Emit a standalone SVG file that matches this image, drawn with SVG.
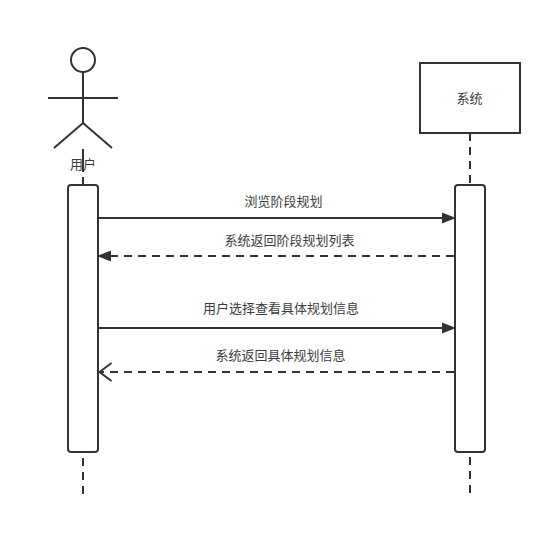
<svg xmlns="http://www.w3.org/2000/svg" width="552" height="533" viewBox="0 0 552 533">
<style>
.s{fill:none;stroke:#333;stroke-width:2}
.d{fill:none;stroke:#333;stroke-width:2;stroke-dasharray:8 6}
.b{fill:#fff;stroke:#333;stroke-width:2}
text{font-family:"Noto Sans CJK SC","Liberation Sans",sans-serif;font-size:13px;fill:#3c3c3c;text-anchor:middle}
</style>
<defs>
<marker id="fill" markerUnits="userSpaceOnUse" markerWidth="16" markerHeight="12" refX="14" refY="6" orient="auto"><path d="M0 0.5L14 6L0 11.5Z" fill="#333"/></marker>
<marker id="open" markerUnits="userSpaceOnUse" markerWidth="16" markerHeight="20" refX="14" refY="10" orient="auto"><path d="M2 1L14 10L2 19" fill="none" stroke="#333" stroke-width="2"/></marker>
</defs>
<rect width="552" height="533" fill="#fff"/>
<g id="lifelines">
<path class="s" d="M83 149V172M83 177V185"/>
<path class="d" d="M83 458V500M470 133V185M470 457V494"/>
</g>
<g id="actor-user">
<circle class="s" cx="83" cy="60" r="12"/>
<path class="s" d="M83 72V123M48 98H118M54 148L83 123L112 148"/>
<text x="83" y="169">用户</text>
</g>
<g id="node-system">
<rect class="b" x="420" y="63" width="100" height="70"/>
<text x="469.500" y="103">系统</text>
</g>
<g id="activation-user"><rect class="b" x="68" y="185" width="30" height="267" rx="3"/></g>
<g id="activation-system"><rect class="b" x="455" y="185" width="30" height="267" rx="3"/></g>
<g id="connectors">
<path class="s" d="M99 218H456" marker-end="url(#fill)"/>
<path class="d" d="M454 256H97" marker-end="url(#fill)"/>
<path class="s" d="M99 328H456" marker-end="url(#fill)"/>
<path class="d" d="M454 372H99.500" marker-end="url(#open)"/>
</g>
<g id="labels">
<text x="283.500" y="205.500">浏览阶段规划</text>
<text x="289.500" y="244.500">系统返回阶段规划列表</text>
<text x="281" y="312.500">用户选择查看具体规划信息</text>
<text x="280.500" y="359.500">系统返回具体规划信息</text>
</g>
</svg>
